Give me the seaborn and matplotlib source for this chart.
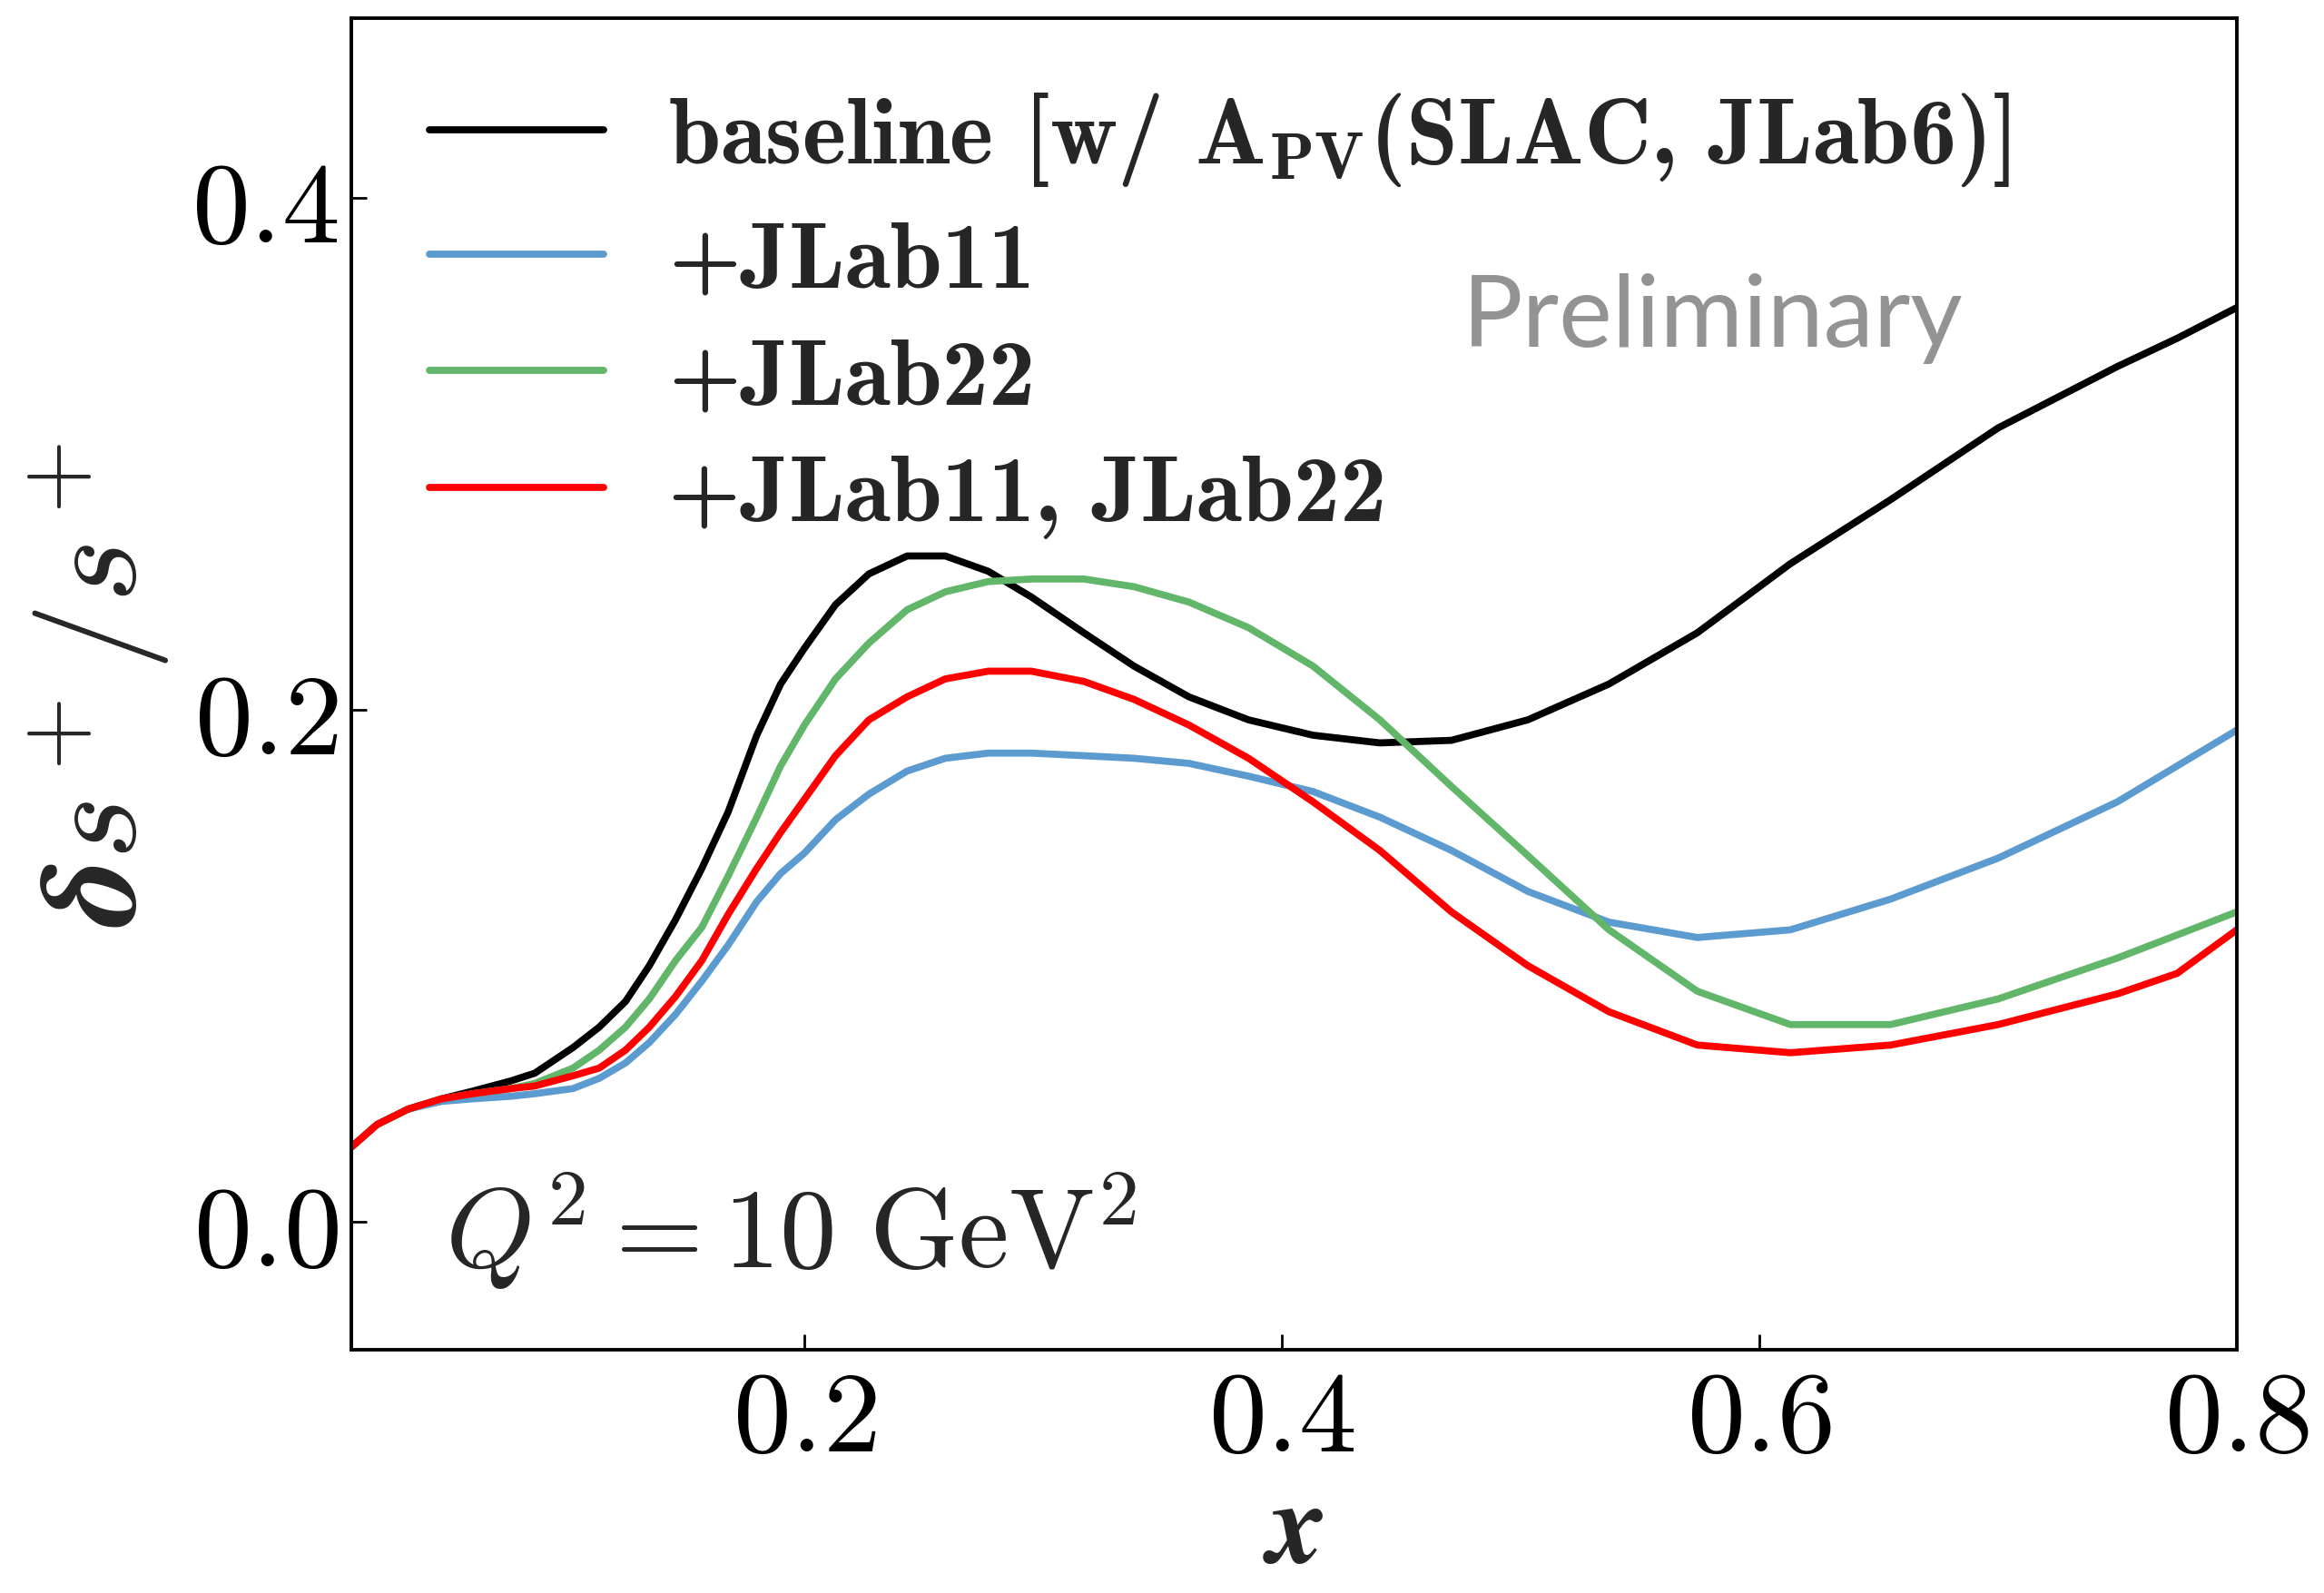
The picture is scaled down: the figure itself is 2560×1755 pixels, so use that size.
import numpy as np
import pandas as pd
import matplotlib
matplotlib.use("Agg")
import matplotlib.pyplot as plt
import seaborn as sns
from matplotlib.ticker import FixedLocator, FuncFormatter

# momentum fraction grid shared by all fits
x_grid = [0.010, 0.021, 0.034, 0.048, 0.061, 0.077, 0.087, 0.095, 0.103, 0.114,
          0.125, 0.135, 0.146, 0.157, 0.168, 0.180, 0.190, 0.200, 0.213, 0.227,
          0.243, 0.259, 0.277, 0.295, 0.317, 0.338, 0.361, 0.386, 0.413, 0.441,
          0.471, 0.503, 0.537, 0.574, 0.613, 0.655, 0.700, 0.750, 0.775, 0.800]

# relative uncertainty delta s+ / s+ at Q^2 = 10 GeV^2
baseline = [0.029, 0.038, 0.044, 0.048, 0.051, 0.055, 0.058, 0.063, 0.068, 0.076,
            0.086, 0.100, 0.118, 0.138, 0.160, 0.190, 0.210, 0.224, 0.241, 0.253,
            0.260, 0.260, 0.254, 0.244, 0.230, 0.217, 0.205, 0.196, 0.190, 0.187,
            0.188, 0.196, 0.210, 0.230, 0.257, 0.282, 0.310, 0.334, 0.345, 0.357]
jlab11 = [0.029, 0.038, 0.044, 0.047, 0.048, 0.049, 0.050, 0.051, 0.052, 0.056,
          0.062, 0.070, 0.081, 0.094, 0.108, 0.125, 0.136, 0.144, 0.157, 0.167,
          0.176, 0.181, 0.183, 0.183, 0.182, 0.181, 0.179, 0.174, 0.168, 0.158,
          0.145, 0.129, 0.117, 0.111, 0.114, 0.126, 0.142, 0.164, 0.178, 0.192]
jlab22 = [0.029, 0.038, 0.044, 0.048, 0.050, 0.052, 0.054, 0.057, 0.060, 0.067,
          0.076, 0.087, 0.102, 0.115, 0.135, 0.158, 0.178, 0.194, 0.212, 0.226,
          0.239, 0.246, 0.250, 0.251, 0.251, 0.248, 0.242, 0.232, 0.217, 0.196,
          0.170, 0.143, 0.114, 0.090, 0.077, 0.077, 0.087, 0.103, 0.112, 0.121]
jlab11_22 = [0.029, 0.038, 0.044, 0.048, 0.050, 0.052, 0.053, 0.055, 0.057, 0.060,
             0.067, 0.076, 0.088, 0.102, 0.120, 0.138, 0.152, 0.165, 0.182, 0.196,
             0.205, 0.212, 0.215, 0.215, 0.211, 0.204, 0.194, 0.181, 0.164, 0.145,
             0.121, 0.100, 0.082, 0.069, 0.066, 0.069, 0.077, 0.089, 0.097, 0.114]

labels = [r"baseline [w/ $\mathbf{A}_{\mathbf{PV}}$(SLAC, JLab6)]",
          "+JLab11",
          "+JLab22",
          "+JLab11, JLab22"]
colors = ["black", "#5b9bd0", "#62b66a", "#ff0000"]
series = [baseline, jlab11, jlab22, jlab11_22]

x_ticks = [0.2, 0.4, 0.6, 0.8]
y_ticks = [0.0, 0.2, 0.4]

sns.set_theme(style="ticks")
plt.rcParams["mathtext.fontset"] = "cm"
plt.rcParams["font.family"] = ["DejaVu Serif"]

fig = plt.figure(figsize=(12.8, 8.78), dpi=200)
ax = fig.add_axes([0.151, 0.1526, 0.8115, 0.8354])

for vals, lab, col in zip(series, labels, colors):
    df = pd.DataFrame({"x": x_grid, "y": vals})
    sns.lineplot(data=df, x="x", y="y", color=col, lw=2.8, label=lab,
                 sort=False, ax=ax)

ax.set_xlim(0.01, 0.8)
ax.set_ylim(-0.05, 0.47)
ax.xaxis.set_major_locator(FixedLocator(x_ticks))
ax.yaxis.set_major_locator(FixedLocator(y_ticks))
fmt = FuncFormatter(lambda v, p: r"$%.1f$" % v)
ax.xaxis.set_major_formatter(fmt)
ax.yaxis.set_major_formatter(fmt)
ax.tick_params(direction="in", length=6, width=1.0, labelsize=46,
               colors="black")
ax.tick_params(axis="x", pad=5)
ax.tick_params(axis="y", pad=5)
for sp in ax.spines.values():
    sp.set_linewidth(1.4)
    sp.set_color("black")

ax.set_xlabel(r"$\boldsymbol{x}$", fontsize=46, va="center")
ax.xaxis.set_label_coords(0.5, -0.135)
ax.set_ylabel(r"$\boldsymbol{\delta s^+/s^+}$", fontsize=54, labelpad=8)

ax.text(0.05, 0.09, r"$Q^2 = 10\ \mathrm{GeV}^2$", transform=ax.transAxes,
        fontsize=45, ha="left", va="center")
ax.text(0.722, 0.775, "Preliminary", transform=ax.transAxes, fontsize=40,
        color="#939393", ha="center", va="center", family=["Lato", "DejaVu Sans"])

leg = ax.legend(loc="upper left", frameon=False,
                prop={"family": "cmb10", "size": 37},
                handlelength=1.86, handletextpad=0.7, labelspacing=0.355,
                borderaxespad=0.0, bbox_to_anchor=(0.022, 0.974))

fig.savefig("out.png", dpi=200)
